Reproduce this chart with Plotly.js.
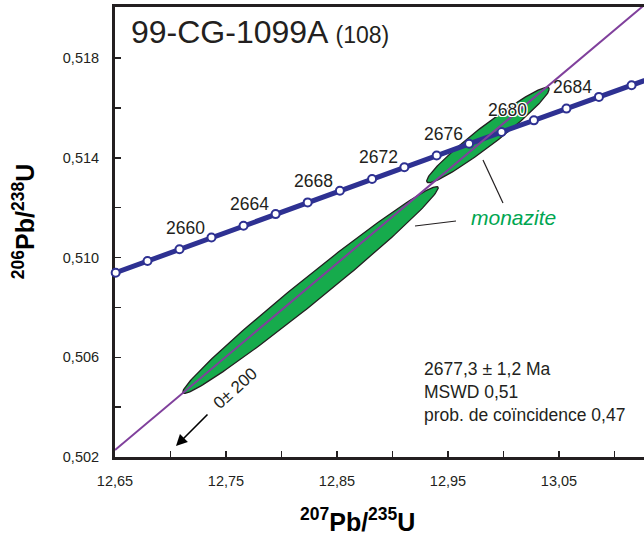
<!DOCTYPE html>
<html><head><meta charset="utf-8">
<script src="https://cdn.plot.ly/plotly-3.0.1.min.js"></script>
<style>html,body{margin:0;padding:0;overflow:hidden;background:#fff}#chart{width:660px;height:536px}</style>
</head><body><div id="chart"></div>
<script>
// ---- data ----
const concAges = [2654,2656,2658,2660,2662,2664,2666,2668,2670,2672,2674,2676,2678,2680,2682,2684,2686,2688];
const concX = [12.6506,12.6793,12.7081,12.7369,12.7658,12.7947,12.8236,12.8526,12.8816,12.9107,12.9398,12.9690,12.9982,13.0274,13.0567,13.0860,13.1154,13.1448];
const concY = [0.50939,0.50986,0.51033,0.51080,0.51127,0.51174,0.51221,0.51268,0.51315,0.51362,0.51409,0.51456,0.51503,0.51550,0.51597,0.51644,0.51691,0.51738];
const labelAges = [2660,2664,2668,2672,2676,2680,2684];

const discX = [12.650, 13.135];
const discY = [0.50228, 0.52043];

const ellCx  = [12.82613, 12.98604];
const ellCy  = [0.508697, 0.514912];
const ellSx  = [0.11508, 0.05523];
const ellSy  = [0.004149, 0.001911];
const ellRho = [0.988, 0.965];

const xTickVals = [12.65,12.75,12.85,12.95,13.05];
const xTickText = ['12,65','12,75','12,85','12,95','13,05'];
const xMinorVals = [12.70,12.80,12.90,13.00,13.10];
const yTickVals = [0.502,0.506,0.510,0.514,0.518];
const yTickText = ['0,502','0,506','0,510','0,514','0,518'];
const yMinorVals = [0.504,0.508,0.512,0.516];

const sampleName = '99-CG-1099A';
const nAnalyses = '(108)';
const resultLines = ['2677,3 ± 1,2 Ma','MSWD 0,51','prob. de coïncidence 0,47'];
const lowerIntercept = '0± 200';
const mineral = 'monazite';

// ---- styles ----
const FONT = 'Liberation Sans, Arial, Helvetica, sans-serif';
const INK = '#231f20';
const BLUE = '#2e3192';
const PURPLE = '#80409c';
const GREEN = '#16ab4c';
const HALO = '1px 1px 0 #fff, -1px -1px 0 #fff, 1px -1px 0 #fff, -1px 1px 0 #fff, 0 1px 0 #fff, 0 -1px 0 #fff, 1px 0 0 #fff, -1px 0 0 #fff';

function ellipse(cx, cy, sx, sy, rho, n) {
  const xs = [], ys = [];
  const s = Math.sqrt(1 - rho * rho);
  for (let i = 0; i <= n; i++) {
    const t = 2 * Math.PI * i / n;
    xs.push(cx + sx * Math.cos(t));
    ys.push(cy + sy * (rho * Math.cos(t) + s * Math.sin(t)));
  }
  return {xs, ys};
}

const traces = [];
for (let i = 0; i < ellCx.length; i++) {
  const e = ellipse(ellCx[i], ellCy[i], ellSx[i], ellSy[i], ellRho[i], 200);
  traces.push({x: e.xs, y: e.ys, mode: 'lines', fill: 'toself', fillcolor: GREEN,
    line: {color: INK, width: 1.3}, hoverinfo: 'skip', showlegend: false});
}
traces.push({x: concX, y: concY, mode: 'lines+markers', cliponaxis: false,
  line: {color: BLUE, width: 5},
  marker: {size: 8, color: '#ffffff', line: {color: BLUE, width: 2}},
  showlegend: false});
traces.push({x: discX, y: discY, mode: 'lines', line: {color: PURPLE, width: 2}, showlegend: false});

const annotations = [];
labelAges.forEach(a => {
  const i = concAges.indexOf(a);
  const f = {family: FONT, size: 17.5, color: INK};
  if (a === 2680) f.shadow = HALO;
  annotations.push({x: concX[i], y: concY[i], xref: 'x', yref: 'y', text: String(a), showarrow: false,
    xshift: -26, yshift: 10, font: f});
});
annotations.push({xref: 'paper', yref: 'paper', x: 0.026, y: 0.944, xanchor: 'left', yanchor: 'middle',
  text: sampleName + ' <span style="font-size:23px">' + nAnalyses + '</span>', showarrow: false,
  font: {family: FONT, size: 32, color: INK}});
annotations.push({xref: 'paper', yref: 'paper', x: 0.5738, y: 0.1444, xanchor: 'left', yanchor: 'middle', align: 'left',
  text: resultLines.join('<br>'), showarrow: false, font: {family: FONT, size: 17.5, color: INK}});
annotations.push({xref: 'x', yref: 'y', x: 13.00946, y: 0.511624, text: '<i>' + mineral + '</i>', showarrow: false,
  font: {family: FONT, size: 21, color: '#00a651'}});
annotations.push({xref: 'x', yref: 'y', x: 12.75811, y: 0.504767, text: lowerIntercept, textangle: -42, showarrow: false,
  font: {family: FONT, size: 17, color: INK}});
annotations.push({xref: 'x', yref: 'y', x: 12.70495, y: 0.502441, text: '', showarrow: true, ax: 33, ay: -33,
  arrowhead: 2, arrowsize: 1.4, arrowwidth: 1.6, arrowcolor: '#000'});
// axis titles
annotations.push({xref: 'paper', yref: 'paper', x: 0.4542, y: -0.139, xanchor: 'center', yanchor: 'middle', showarrow: false,
  text: '<b><sup>207</sup>Pb/<sup>235</sup>U</b>', font: {family: FONT, size: 25, color: '#000'}});
annotations.push({xref: 'paper', yref: 'paper', x: -0.17, y: 0.522, xanchor: 'center', yanchor: 'middle', showarrow: false, textangle: -90,
  text: '<b><sup>206</sup>Pb/<sup>238</sup>U</b>', font: {family: FONT, size: 25, color: '#000'}});

const shapes = [
  {type: 'line', xref: 'x', yref: 'y', x0: 12.92027, y0: 0.511263, x1: 12.95721, y1: 0.511464, line: {color: INK, width: 1.2}},
  {type: 'line', xref: 'x', yref: 'y', x0: 12.98153, y0: 0.513910, x1: 12.99955, y1: 0.512186, line: {color: INK, width: 1.2}}
];

const axisCommon = {showline: true, linewidth: 3, linecolor: INK, mirror: true, ticks: 'inside', ticklen: 6,
  tickwidth: 1.5, tickcolor: INK, showgrid: false, zeroline: false, tickfont: {family: FONT, size: 14.5, color: INK}};

const layout = {
  width: 660, height: 536,
  margin: {l: 115, r: 10, t: 7, b: 79},
  paper_bgcolor: '#fff', plot_bgcolor: '#fff',
  xaxis: Object.assign({}, axisCommon, {range: [12.65, 13.132], tickmode: 'array', tickvals: xTickVals, ticktext: xTickText, ticklabelstandoff: 9,
    minor: {tickmode: 'array', tickvals: xMinorVals, ticks: 'inside', ticklen: 6, tickwidth: 1.5, tickcolor: INK, showgrid: false}}),
  yaxis: Object.assign({}, axisCommon, {range: [0.502, 0.520045], tickmode: 'array', tickvals: yTickVals, ticktext: yTickText, ticklabelstandoff: 10, layer: 'below traces',
    minor: {tickmode: 'array', tickvals: yMinorVals, ticks: 'inside', ticklen: 6, tickwidth: 1.5, tickcolor: INK, showgrid: false}}),
  annotations, shapes, showlegend: false
};

Plotly.newPlot('chart', traces, layout, {displayModeBar: false, staticPlot: true});
</script></body></html>
